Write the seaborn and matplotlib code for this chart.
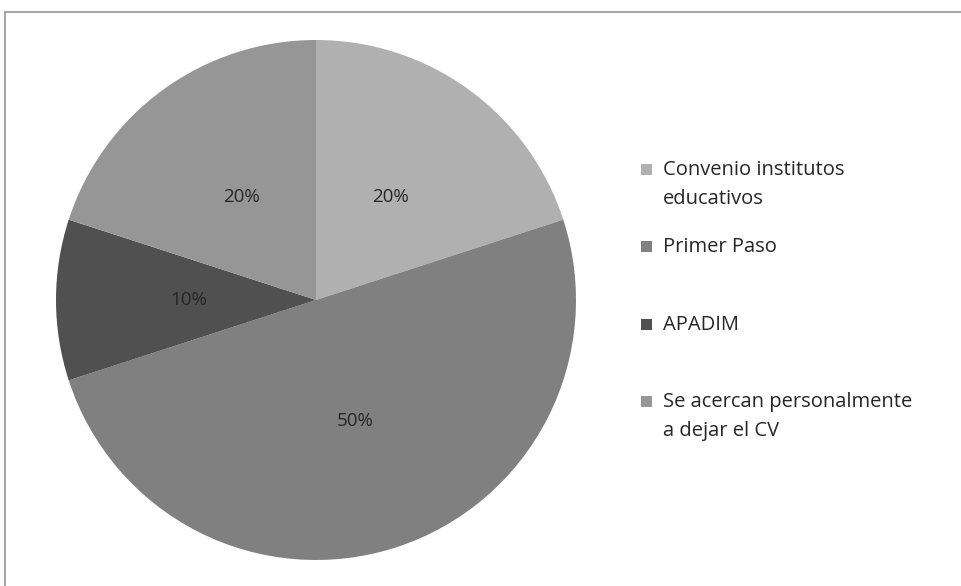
import matplotlib
matplotlib.use("Agg")
import matplotlib.pyplot as plt
from matplotlib.patches import Rectangle
import seaborn as sns

# Data
categories = [
    "Convenio institutos\neducativos",
    "Primer Paso",
    "APADIM",
    "Se acercan personalmente\na dejar el CV",
]
shares = [20, 50, 10, 20]
colors = ["#b0b0b0", "#808080", "#505050", "#969696"]

sns.set_theme(style="white")
plt.rcParams["font.family"] = ["Open Sans", "DejaVu Sans"]

W, H = 961, 586
fig = plt.figure(figsize=(W / 100, H / 100), dpi=100)
fig.patch.set_facecolor("white")

# chart-area border (cropped on right/bottom like the source)
fig.patches.append(Rectangle((4.5 / W, -0.1), 1.2, 1.1 - 11.5 / H,
                             transform=fig.transFigure, fill=False,
                             edgecolor="#a6a6a6", linewidth=1.5))

# pie axes: centre (316, 300) px, radius 260 px
cx, cy, r = 316, 300, 260
ax = fig.add_axes([(cx - r) / W, (H - cy - r) / H, 2 * r / W, 2 * r / H])
wedges, texts, autotexts = ax.pie(
    shares, colors=colors, startangle=90, counterclock=False,
    autopct="%1.0f%%", pctdistance=0.49, radius=1,
    wedgeprops={"linewidth": 0},
    textprops={"fontsize": 13.5, "color": "#262626"},
)
ax.set_xlim(-1, 1)
ax.set_ylim(-1, 1)
ax.set_aspect("auto")
ax.axis("off")

# legend, drawn like the spreadsheet one (square aligned with first line)
leg_y = [169, 246, 324, 401]
for lab, col, y in zip(categories, colors, leg_y):
    fig.patches.append(Rectangle((641 / W, (H - y - 6) / H), 11 / W, 11 / H,
                                 transform=fig.transFigure, facecolor=col,
                                 edgecolor="none"))
    fig.text(663 / W, (H - y + 9) / H, lab, fontsize=14.5, color="#262626",
             ha="left", va="top", linespacing=1.6,
             transform=fig.transFigure)

fig.savefig("out.png", dpi=100)
